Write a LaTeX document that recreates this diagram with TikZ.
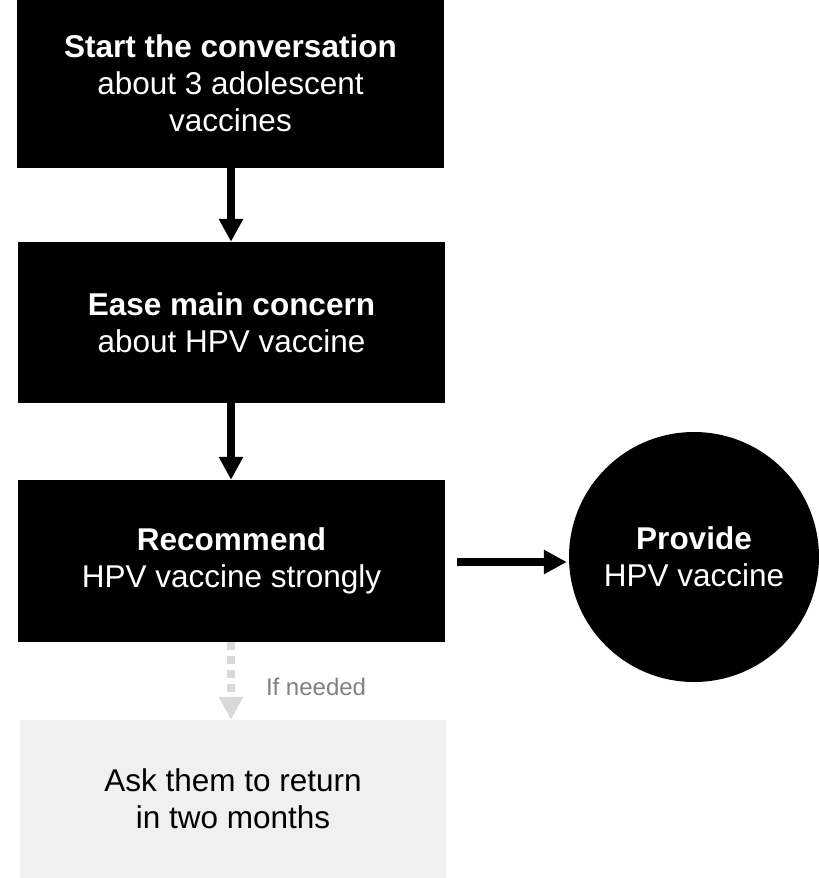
\documentclass[tikz,border=0pt]{standalone}
\usepackage{fontspec}
\setmainfont{Liberation Sans}
\usetikzlibrary{arrows.meta}
\definecolor{greybox}{HTML}{F0F0F0}
\definecolor{greyarrow}{HTML}{D9D9D9}
\definecolor{greytext}{HTML}{808080}
\tikzset{
  blackbox/.style={rectangle, fill=black, text=white, align=center, inner sep=0pt,
    font=\fontsize{31.5}{37}\selectfont},
  lightbox/.style={rectangle, fill=greybox, text=black, align=center, inner sep=0pt,
    font=\fontsize{31.5}{37}\selectfont},
  bigcircle/.style={circle, fill=black, text=white, align=center, inner sep=0pt,
    minimum size=250pt, font=\fontsize{31.5}{37}\selectfont},
  flow/.style={line width=8pt, -{Triangle[width=23pt,length=23pt]}},
  optflow/.style={line width=8pt, draw=greyarrow, dash pattern=on 8pt off 6pt,
    -{Triangle[width=23pt,length=23pt,fill=greyarrow]}},
  note/.style={text=greytext, font=\fontsize{24}{28}\selectfont, inner sep=0pt}
}
\begin{document}
\begin{tikzpicture}[x=1pt,y=-1pt]
\useasboundingbox (0,0) rectangle (819,878);
\node[blackbox, minimum width=427pt, minimum height=168pt] (b1) at (230.5,83.5)
  {\textbf{Start the conversation}\\about 3 adolescent\\vaccines};
\node[blackbox, minimum width=427pt, minimum height=161pt] (b2) at (231.5,322.5)
  {\textbf{Ease main concern}\\about HPV vaccine};
\node[blackbox, minimum width=427pt, minimum height=162pt] (b3) at (231.5,561)
  {\textbf{Recommend}\\HPV vaccine strongly};
\node[lightbox, minimum width=426pt, minimum height=158pt] (b4) at (233,799)
  {Ask them to return\\in two months};
\node[bigcircle] (c) at (694,557) {\textbf{Provide}\\HPV vaccine};
\draw[flow] (b1.south -| 231,0) -- (b2.north -| 231,0);
\draw[flow] (b2.south -| 231,0) -- (b3.north -| 231,0);
\draw[flow, shorten <=12pt, shorten >=2pt] (b3.east |- 0,562) -- (c.west |- 0,562);
\draw[optflow] (b3.south -| 231,0) -- (b4.north -| 231,0)
  node[note, pos=0.58, right=31pt] (n) {If needed};
\end{tikzpicture}
\end{document}
